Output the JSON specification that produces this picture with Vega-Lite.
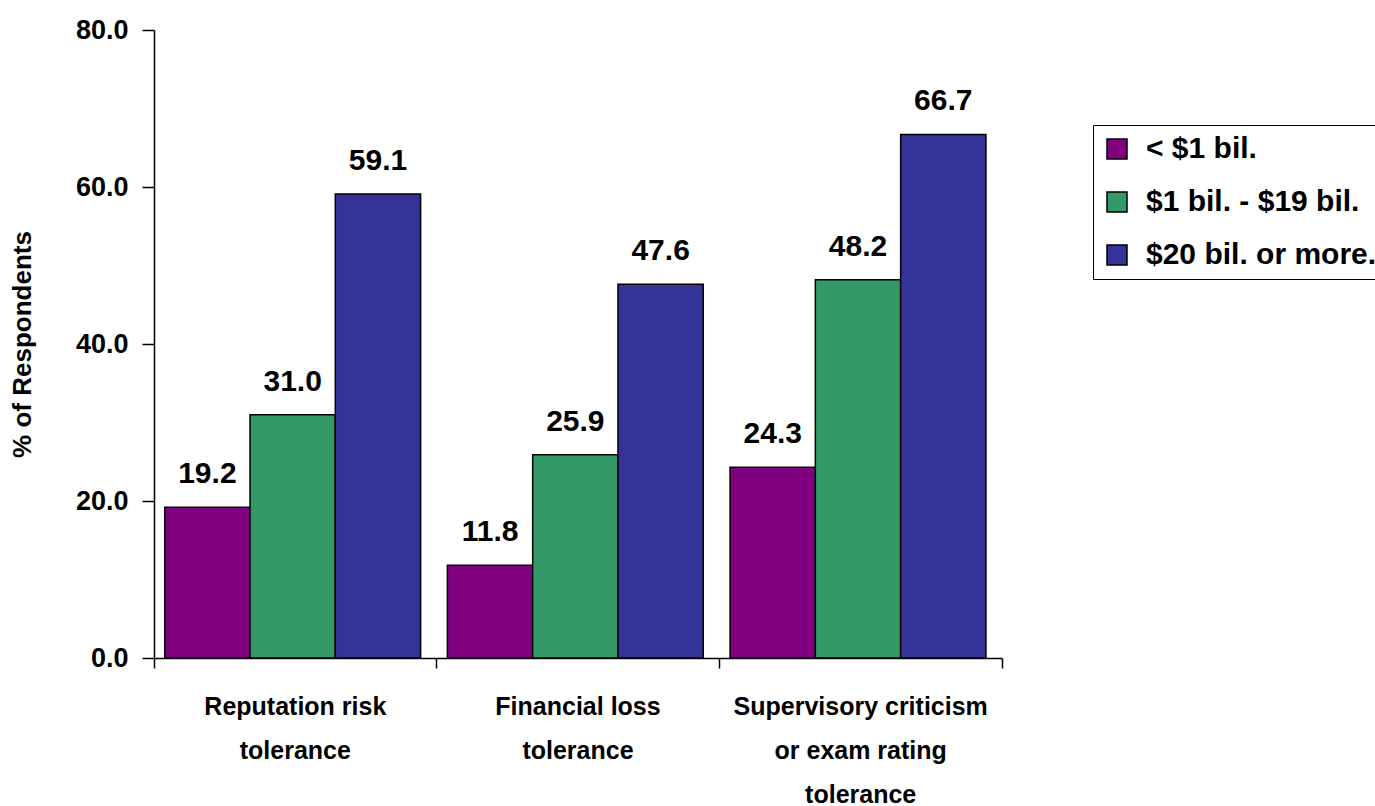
{
  "$schema": "https://vega.github.io/schema/vega-lite/v6.json",
  "width": 848,
  "height": 628,
  "autosize": {"type": "none"},
  "padding": {"left": 154, "top": 30, "right": 373, "bottom": 148},
  "background": "white",
  "config": {
    "view": {"stroke": null},
    "font": "Liberation Sans, Arial",
    "axis": {"labelFont": "Liberation Sans", "titleFont": "Liberation Sans"},
    "legend": {"labelFont": "Liberation Sans"}
  },
  "data": {
    "values": [
      {"category": "Reputation risk tolerance", "group": "< $1 bil.", "value": 19.2},
      {"category": "Reputation risk tolerance", "group": "$1 bil. - $19 bil.", "value": 31.0},
      {"category": "Reputation risk tolerance", "group": "$20 bil. or more.", "value": 59.1},
      {"category": "Financial loss tolerance", "group": "< $1 bil.", "value": 11.8},
      {"category": "Financial loss tolerance", "group": "$1 bil. - $19 bil.", "value": 25.9},
      {"category": "Financial loss tolerance", "group": "$20 bil. or more.", "value": 47.6},
      {"category": "Supervisory criticism or exam rating tolerance", "group": "< $1 bil.", "value": 24.3},
      {"category": "Supervisory criticism or exam rating tolerance", "group": "$1 bil. - $19 bil.", "value": 48.2},
      {"category": "Supervisory criticism or exam rating tolerance", "group": "$20 bil. or more.", "value": 66.7}
    ]
  },
  "encoding": {
    "x": {
      "field": "category",
      "type": "nominal",
      "sort": ["Reputation risk tolerance", "Financial loss tolerance", "Supervisory criticism or exam rating tolerance"],
      "scale": {"paddingInner": 0, "paddingOuter": 0},
      "axis": {
        "title": null,
        "labelAngle": 0,
        "bandPosition": 1,
        "tickExtra": true,
        "labelExpr": "datum.value == 'Reputation risk tolerance' ? ['Reputation risk', 'tolerance'] : datum.value == 'Financial loss tolerance' ? ['Financial loss', 'tolerance'] : datum.value == 'Supervisory criticism or exam rating tolerance' ? ['Supervisory criticism', 'or exam rating', 'tolerance'] : ''",
        "labelFontSize": 25,
        "labelFontWeight": "bold",
        "labelColor": "black",
        "labelLineHeight": 44,
        "labelPadding": 26,
        "labelOverlap": false,
        "labelBound": false,
        "labelFlush": false,
        "labelLimit": 0,
        "tickColor": "black",
        "tickSize": 10,
        "tickWidth": 1.5,
        "domainColor": "black",
        "domainWidth": 1.5
      }
    },
    "xOffset": {
      "field": "group",
      "type": "nominal",
      "sort": ["< $1 bil.", "$1 bil. - $19 bil.", "$20 bil. or more."],
      "scale": {"paddingInner": 0, "paddingOuter": 0.157, "align": 0.4}
    },
    "y": {
      "field": "value",
      "type": "quantitative",
      "scale": {"domain": [0, 80], "nice": false},
      "axis": {
        "title": "% of Respondents",
        "values": [0, 20, 40, 60, 80],
        "format": ".1f",
        "grid": false,
        "labelFontSize": 27,
        "labelFontWeight": "bold",
        "labelColor": "black",
        "labelPadding": 14,
        "tickColor": "black",
        "tickSize": 12,
        "tickWidth": 1.5,
        "domainColor": "black",
        "domainWidth": 1.5,
        "titleFontSize": 26,
        "titleFontWeight": "bold",
        "titleColor": "black",
        "titlePadding": 40
      }
    }
  },
  "layer": [
    {
      "mark": {"type": "bar", "stroke": "black", "strokeWidth": 1.5},
      "encoding": {
        "color": {
          "field": "group",
          "type": "nominal",
          "sort": ["< $1 bil.", "$1 bil. - $19 bil.", "$20 bil. or more."],
          "scale": {"domain": ["< $1 bil.", "$1 bil. - $19 bil.", "$20 bil. or more."], "range": ["#800080", "#339966", "#333399"]},
          "legend": {
            "title": null,
            "orient": "none",
            "legendX": 939,
            "legendY": 95,
            "symbolType": "square",
            "symbolSize": 400,
            "symbolStrokeColor": "black",
            "symbolStrokeWidth": 1.5,
            "labelFontSize": 30,
            "labelFontWeight": "bold",
            "labelColor": "black",
            "labelOffset": 14,
            "labelLimit": 0,
            "rowPadding": 23,
            "padding": 9,
            "strokeColor": "black",
            "fillColor": "white"
          }
        }
      }
    },
    {
      "mark": {"type": "text", "baseline": "alphabetic", "dy": -24, "fontSize": 30, "fontWeight": "bold", "color": "black"},
      "encoding": {
        "text": {"field": "value", "type": "quantitative", "format": ".1f"}
      }
    }
  ]
}
